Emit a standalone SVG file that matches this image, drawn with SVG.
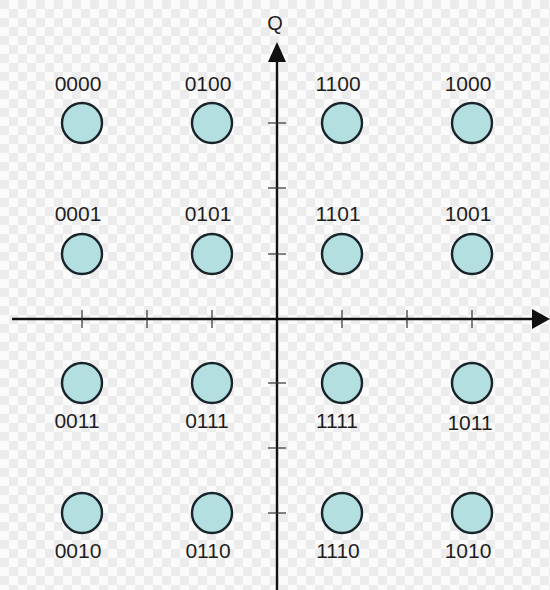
<svg xmlns="http://www.w3.org/2000/svg" width="550" height="590" viewBox="0 0 550 590">
<defs>
<pattern id="chk" width="18" height="18" patternUnits="userSpaceOnUse">
<rect width="18" height="18" fill="#fbfbfb"/>
<rect width="9" height="9" fill="#ececec"/>
<rect x="9" y="9" width="9" height="9" fill="#ececec"/>
</pattern>
<style>
.pt{fill:#b3dfe0;stroke:#18232a;stroke-width:2.4}
.lb{font-family:"Liberation Sans",Arial,sans-serif;font-size:21px;fill:#1e1e1e;text-anchor:middle}
.ax{stroke:#111;stroke-width:2.4;fill:none}
.tk{stroke:#333;stroke-width:1.2}
</style>
</defs>
<rect width="550" height="590" fill="url(#chk)"/>
<g id="axes">
<line class="ax" x1="12" y1="319" x2="534" y2="319"/>
<polygon points="532,309 550,319 532,329" fill="#111"/>
<line class="ax" x1="277" y1="590" x2="277" y2="60"/>
<polygon points="268,62 277,42 286,62" fill="#111"/>
<g class="tk">
<line x1="82" y1="310" x2="82" y2="328"/>
<line x1="147" y1="310" x2="147" y2="328"/>
<line x1="212" y1="310" x2="212" y2="328"/>
<line x1="342" y1="310" x2="342" y2="328"/>
<line x1="407" y1="310" x2="407" y2="328"/>
<line x1="472" y1="310" x2="472" y2="328"/>
<line x1="268" y1="123" x2="286" y2="123"/>
<line x1="268" y1="188" x2="286" y2="188"/>
<line x1="268" y1="254" x2="286" y2="254"/>
<line x1="268" y1="383" x2="286" y2="383"/>
<line x1="268" y1="448" x2="286" y2="448"/>
<line x1="268" y1="513" x2="286" y2="513"/>
</g>
<text class="lb" x="275" y="30" style="font-size:20px">Q</text>
</g>
<g id="p0000"><circle class="pt" cx="82" cy="123" r="20"/><text class="lb" x="78" y="91">0000</text></g>
<g id="p0100"><circle class="pt" cx="212" cy="123" r="20"/><text class="lb" x="208" y="91">0100</text></g>
<g id="p1100"><circle class="pt" cx="342" cy="123" r="20"/><text class="lb" x="338" y="91">1100</text></g>
<g id="p1000"><circle class="pt" cx="472" cy="123" r="20"/><text class="lb" x="468" y="91">1000</text></g>
<g id="p0001"><circle class="pt" cx="82" cy="254" r="20"/><text class="lb" x="78" y="221">0001</text></g>
<g id="p0101"><circle class="pt" cx="212" cy="254" r="20"/><text class="lb" x="208" y="221">0101</text></g>
<g id="p1101"><circle class="pt" cx="342" cy="254" r="20"/><text class="lb" x="338" y="221">1101</text></g>
<g id="p1001"><circle class="pt" cx="472" cy="254" r="20"/><text class="lb" x="468" y="221">1001</text></g>
<g id="p0011"><circle class="pt" cx="82" cy="383" r="20"/><text class="lb" x="77" y="428">0011</text></g>
<g id="p0111"><circle class="pt" cx="212" cy="383" r="20"/><text class="lb" x="207" y="428">0111</text></g>
<g id="p1111"><circle class="pt" cx="342" cy="383" r="20"/><text class="lb" x="337" y="428">1111</text></g>
<g id="p1011"><circle class="pt" cx="472" cy="383" r="20"/><text class="lb" x="470" y="430">1011</text></g>
<g id="p0010"><circle class="pt" cx="82" cy="513" r="20"/><text class="lb" x="78" y="558">0010</text></g>
<g id="p0110"><circle class="pt" cx="212" cy="513" r="20"/><text class="lb" x="208" y="558">0110</text></g>
<g id="p1110"><circle class="pt" cx="342" cy="513" r="20"/><text class="lb" x="338" y="558">1110</text></g>
<g id="p1010"><circle class="pt" cx="472" cy="513" r="20"/><text class="lb" x="468" y="558">1010</text></g>
</svg>
